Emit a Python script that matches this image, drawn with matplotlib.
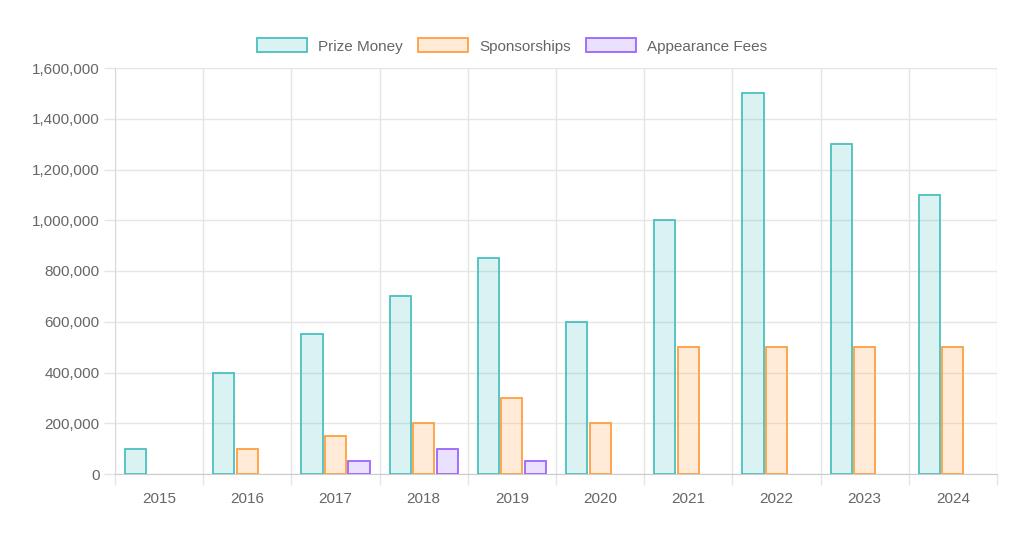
import matplotlib
matplotlib.use("Agg")
import matplotlib.pyplot as plt
from matplotlib.ticker import FuncFormatter, FixedLocator
import numpy as np

years = ["2015", "2016", "2017", "2018", "2019", "2020", "2021", "2022", "2023", "2024"]
prize_money = [100000, 400000, 550000, 700000, 850000, 600000, 1000000, 1500000, 1300000, 1100000]
sponsorships = [0, 100000, 150000, 200000, 300000, 200000, 500000, 500000, 500000, 500000]
appearance_fees = [0, 0, 50000, 100000, 50000, 0, 0, 0, 0, 0]
series_names = ["Prize Money", "Sponsorships", "Appearance Fees"]

plt.rcParams['font.family'] = ['Liberation Sans', 'DejaVu Sans']

fig = plt.figure(figsize=(10.24, 5.38), dpi=100)
ax = fig.add_axes([115/1024, 1-474/538, (997-115)/1024, (474-68)/538])

fills = [(75/255, 192/255, 192/255, 0.2), (255/255, 159/255, 64/255, 0.2), (153/255, 102/255, 255/255, 0.2)]
edges = [(75/255, 192/255, 192/255), (255/255, 159/255, 64/255), (153/255, 102/255, 255/255)]

x = np.arange(len(years))
group = 0.8
slot = group / 3
bw = slot * 0.9
data = [prize_money, sponsorships, appearance_fees]
for i, (vals, name) in enumerate(zip(data, series_names)):
    vals = np.array(vals, dtype=float)
    pos = x - group/2 + slot*(i+0.5)
    m = vals > 0
    ax.bar(pos[m], vals[m], width=bw, color=fills[i], edgecolor=edges[i], linewidth=1.3, label=name, zorder=3)

ax.set_xlim(-0.5, len(years)-0.5)
ax.set_ylim(0, 1600000)

gridc = '#e5e5e5'
ax.set_xticks(x)
ax.set_xticklabels(years)
ax.xaxis.set_minor_locator(FixedLocator(np.arange(-0.5, len(years), 1.0)))
ax.tick_params(axis='x', which='major', length=0, pad=13, labelsize=11, labelcolor='#666666')
ax.tick_params(axis='x', which='minor', length=8, color=gridc, width=1)
ax.grid(axis='x', which='minor', color=gridc, linewidth=1, zorder=0)

ax.set_yticks(np.arange(0, 1600001, 200000))
ax.yaxis.set_major_formatter(FuncFormatter(lambda v, p: f"{int(v):,}"))
ax.tick_params(axis='y', length=8, color=gridc, width=1, pad=3, labelsize=11, labelcolor='#666666')
ax.grid(axis='y', which='major', color=gridc, linewidth=1, zorder=0)
ax.set_axisbelow(True)

for s in ['top', 'right']:
    ax.spines[s].set_visible(False)
ax.spines['left'].set_color('#d9d9d9')
ax.spines['bottom'].set_color('#cccccc')

leg = fig.legend(loc='center', bbox_to_anchor=(0.5, 1-46/538), ncol=3, frameon=False,
                 fontsize=11, handlelength=3.3, handleheight=1.0, handletextpad=0.7,
                 columnspacing=1.0, labelcolor='#666666')

fig.savefig("out.png", dpi=100)
